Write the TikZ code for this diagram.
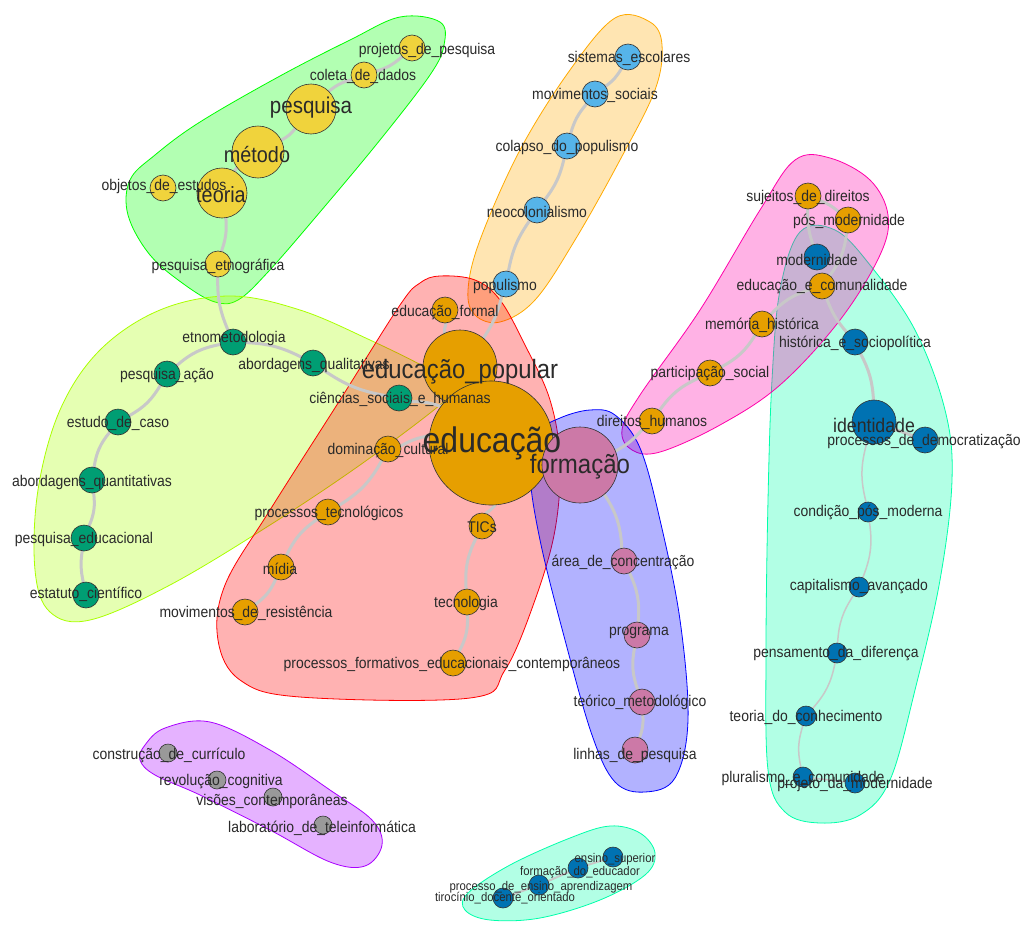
\documentclass[tikz,border=0pt]{standalone}
\usepackage{fontspec}
\setmainfont{Liberation Sans}[FakeStretch=0.9]
\pgfdeclarelayer{paper}
\pgfdeclarelayer{hulls}
\pgfdeclarelayer{edges}
\pgfdeclarelayer{labels}
\pgfsetlayers{paper,hulls,edges,main,labels}
\definecolor{cyel}{HTML}{F0D33C}
\definecolor{csky}{HTML}{56B4E9}
\definecolor{cora}{HTML}{E69F00}
\definecolor{cgrn}{HTML}{009E73}
\definecolor{cblu}{HTML}{0072B2}
\definecolor{cpnk}{HTML}{CC79A7}
\definecolor{cgry}{HTML}{999999}
\definecolor{labc}{HTML}{2A2A2A}
\definecolor{edgec}{HTML}{C8C8C8}
\definecolor{hred}{HTML}{FF0000}
\definecolor{hora}{HTML}{FFAA00}
\definecolor{hyg}{HTML}{AAFF00}
\definecolor{hgrn}{HTML}{00FF00}
\definecolor{hteal}{HTML}{00FFAA}
\definecolor{hblu}{HTML}{0000FF}
\definecolor{hpur}{HTML}{AA00FF}
\definecolor{hmag}{HTML}{FF00AA}
\tikzset{
  nd/.style={circle,draw=black!80,line width=0.6pt,inner sep=0pt,minimum size=26pt},
  cy/.style={fill=cyel}, cs/.style={fill=csky}, co/.style={fill=cora},
  cg/.style={fill=cgrn}, cb/.style={fill=cblu}, cp/.style={fill=cpnk}, cr/.style={fill=cgry},
  lb/.style={font=\fontsize{15.5}{16}\selectfont,text=labc,inner sep=0pt},
  lbs/.style={font=\fontsize{12.6}{13}\selectfont,text=labc,inner sep=0pt},
  hull/.style={draw=#1,fill=#1,fill opacity=0.3,line width=0.8pt},
  edge/.style={draw=edgec,line width=3pt,line cap=round},
  thin edge/.style={draw=edgec,line width=1.5pt,line cap=round}
}
\begin{document}
\begin{tikzpicture}[x=1pt,y=-1pt]
\begin{pgfonlayer}{paper}
\fill[white] (0,0) rectangle (1027,926);
\end{pgfonlayer}
\useasboundingbox (0,0) rectangle (1027,926);
\begin{pgfonlayer}{hulls}
% green
\draw[hull=hgrn] plot[smooth cycle,tension=0.6] coordinates {(400,17) (440,22) (444,45) (430,75) (380,140) (320,212) (268,272) (238,300) (215,302) (185,285) (150,255) (128,215) (130,180) (155,155) (200,122) (280,76) (350,40)};
% beige
\draw[hull=hora] plot[smooth cycle,tension=0.6] coordinates {(615,18) (650,22) (662,45) (655,90) (620,160) (575,240) (535,300) (500,322) (475,315) (468,290) (480,240) (520,150) (570,70)};
% yellow-green
\draw[hull=hyg] plot[smooth cycle,tension=0.6] coordinates {(230,296) (300,310) (370,340) (430,370) (452,388) (440,405) (360,465) (270,525) (170,585) (90,620) (50,612) (35,570) (38,490) (60,410) (100,350) (160,310)};
% red
\draw[hull=hred] plot[smooth cycle,tension=0.6] coordinates {(440,276) (475,280) (500,300) (525,345) (550,400) (560,460) (555,530) (535,600) (505,670) (470,698) (300,697) (240,680) (218,640) (225,585) (270,510) (340,400) (400,305) (420,283)};
% teal right
\draw[hull=hteal] plot[smooth cycle,tension=0.6] coordinates {(800,232) (835,230) (870,265) (915,330) (945,410) (952,480) (940,580) (915,690) (890,780) (860,815) (820,823) (785,812) (768,770) (766,650) (768,500) (772,380) (780,290)};
% pink
\draw[hull=hmag] plot[smooth cycle,tension=0.6] coordinates {(795,160) (830,158) (870,180) (888,215) (880,255) (840,320) (780,385) (720,425) (660,452) (632,450) (622,430) (640,395) (700,310) (760,210)};
% periwinkle
\draw[hull=hblu] plot[smooth cycle,tension=0.6] coordinates {(560,418) (590,410) (615,415) (640,448) (660,520) (680,620) (688,720) (675,778) (645,792) (615,782) (592,735) (565,640) (540,540) (530,470) (540,432)};
% purple
\draw[hull=hpur] plot[smooth cycle,tension=0.6] coordinates {(145,745) (165,728) (210,722) (270,750) (330,790) (372,820) (382,845) (365,866) (330,862) (270,830) (200,795) (155,775) (140,760)};
% bottom teal
\draw[hull=hteal] plot[smooth cycle,tension=0.6] coordinates {(570,838) (610,826) (640,833) (655,853) (645,875) (600,900) (540,918) (490,920) (465,910) (468,893) (510,865)};
\end{pgfonlayer}

% ---------- nodes ----------
% green cluster
\node[nd,cy] (proj) at (412,48) {};
\node[nd,cy] (coleta) at (364,75) {};
\node[nd,cy,minimum size=50pt] (pesq) at (311,109) {};
\node[nd,cy,minimum size=52pt] (metodo) at (258,152) {};
\node[nd,cy,minimum size=50pt] (teoria) at (222,193) {};
\node[nd,cy] (objetos) at (163,188) {};
\node[nd,cy] (petno) at (218,264) {};
% beige cluster
\node[nd,cs] (sist) at (628,57) {};
\node[nd,cs] (movsoc) at (595,94) {};
\node[nd,cs] (colapso) at (567,146) {};
\node[nd,cs] (neocol) at (537,210) {};
\node[nd,cs] (popul) at (506,284) {};
% red cluster
\node[nd,co,minimum size=74pt] (edupop) at (460,367) {};
\node[nd,co,minimum size=124pt] (edu) at (491,443) {};
\node[nd,co] (eduformal) at (445,310) {};
\node[nd,co] (domin) at (388,449) {};
\node[nd,co] (proctec) at (328,512) {};
\node[nd,co] (tics) at (482,526) {};
\node[nd,co] (midia) at (281,567) {};
\node[nd,co] (movres) at (245,612) {};
\node[nd,co] (tecno) at (467,602) {};
\node[nd,co] (procform) at (453,663) {};
\node[nd,cg] (ciencias) at (399,398) {};
% yellow-green cluster
\node[nd,cg] (etno) at (233,342) {};
\node[nd,cg] (abqual) at (313,363) {};
\node[nd,cg] (pacao) at (167,374) {};
\node[nd,cg] (estudo) at (118,422) {};
\node[nd,cg] (abquant) at (92,480) {};
\node[nd,cg] (pedu) at (84,538) {};
\node[nd,cg] (estat) at (86,595) {};
% periwinkle cluster
\node[nd,cp,minimum size=76pt] (form) at (580,465) {};
\node[nd,cp] (area) at (624,561) {};
\node[nd,cp] (prog) at (637,635) {};
\node[nd,cp] (teorico) at (642,702) {};
\node[nd,cp] (linhas) at (635,750) {};
% pink cluster
\node[nd,co] (sujeitos) at (808,196) {};
\node[nd,co] (posmod) at (848,220) {};
\node[nd,cb] (modern) at (817,257) {};
\node[nd,co] (educom) at (822,286) {};
\node[nd,co] (memoria) at (762,324) {};
\node[nd,co] (partic) at (710,373) {};
\node[nd,co] (direitos) at (652,421) {};
% teal right cluster
\node[nd,cb] (histor) at (855,342) {};
\node[nd,cb,minimum size=44pt] (ident) at (874,422) {};
\node[nd,cb] (procdem) at (925,440) {};
\node[nd,cb,minimum size=20pt] (condicao) at (868,512) {};
\node[nd,cb,minimum size=20pt] (capital) at (859,587) {};
\node[nd,cb,minimum size=20pt] (pensam) at (837,653) {};
\node[nd,cb,minimum size=20pt] (teocon) at (806,716) {};
\node[nd,cb,minimum size=20pt] (plural) at (803,777) {};
\node[nd,cb,minimum size=20pt] (projmod) at (855,783) {};
% purple cluster
\node[nd,cr,minimum size=18pt] (constr) at (168,753) {};
\node[nd,cr,minimum size=18pt] (revol) at (217,780) {};
\node[nd,cr,minimum size=18pt] (visoes) at (273,797) {};
\node[nd,cr,minimum size=18pt] (labor) at (323,825) {};
% bottom teal cluster
\node[nd,cb,minimum size=20pt] (ensup) at (613,857) {};
\node[nd,cb,minimum size=20pt] (formeduc) at (578,868) {};
\node[nd,cb,minimum size=20pt] (procens) at (539,885) {};
\node[nd,cb,minimum size=20pt] (tiroc) at (503,898) {};

% ---------- edges ----------
\begin{pgfonlayer}{edges}
\draw[edge] (proj) to[bend left=12] (coleta);
\draw[edge] (coleta) to[bend right=12] (pesq);
\draw[edge] (pesq) to[bend left=12] (metodo);
\draw[edge] (metodo) to[bend right=12] (teoria);
\draw[edge] (teoria) to[bend left=12] (petno);
\draw[edge] (petno) to[bend right=12] (etno);
\draw[edge] (etno) to[bend right=15] (pacao);
\draw[edge] (pacao) to[bend left=15] (estudo);
\draw[edge] (estudo) to[bend right=15] (abquant);
\draw[edge] (abquant) to[bend left=15] (pedu);
\draw[edge] (pedu) to[bend right=10] (estat);
\draw[edge] (etno) to[bend left=12] (abqual);
\draw[edge] (abqual) to[bend right=12] (ciencias);
\draw[edge] (ciencias) to[bend left=10] (edu);
\draw[edge] (edu) to[bend right=10] (domin);
\draw[edge] (domin) to[bend left=15] (proctec);
\draw[edge] (proctec) to[bend right=15] (midia);
\draw[edge] (midia) to[bend left=15] (movres);
\draw[edge] (edu) to[bend left=10] (tics);
\draw[edge] (tics) to[bend right=15] (tecno);
\draw[edge] (tecno) to[bend left=15] (procform);
\draw[edge] (edupop) to[bend left=10] (eduformal);
\draw[edge] (edupop) to[bend right=10] (popul);
\draw[edge] (popul) to[bend left=12] (neocol);
\draw[edge] (neocol) to[bend right=12] (colapso);
\draw[edge] (colapso) to[bend left=12] (movsoc);
\draw[edge] (movsoc) to[bend right=12] (sist);
\draw[edge] (edu) -- (edupop);
\draw[edge] (edu) -- (form);
\draw[edge] (form) to[bend left=15] (area);
\draw[edge] (area) to[bend left=15] (prog);
\draw[edge] (prog) to[bend right=15] (teorico);
\draw[edge] (teorico) to[bend left=12] (linhas);
\draw[edge] (form) to[bend right=10] (direitos);
\draw[edge] (direitos) to[bend left=15] (partic);
\draw[edge] (partic) to[bend right=15] (memoria);
\draw[edge] (memoria) to[bend left=15] (educom);
\draw[edge] (educom) to[bend right=10] (histor);
\draw[edge] (educom) to[bend right=15] (posmod);
\draw[edge] (sujeitos) to[bend left=10] (posmod);
\draw[edge] (sujeitos) to[bend right=10] (modern);
\draw[edge] (histor) to[bend left=12] (ident);
\draw[edge] (ident) -- (procdem);
\draw[thin edge] (ident) to[bend right=15] (condicao);
\draw[thin edge] (condicao) to[bend left=15] (capital);
\draw[thin edge] (capital) to[bend right=15] (pensam);
\draw[thin edge] (pensam) to[bend left=15] (teocon);
\draw[thin edge] (teocon) to[bend right=15] (plural);
\draw[thin edge] (plural) -- (projmod);
\draw[edge,line width=2pt] (tiroc) -- (procens);
\draw[edge,line width=2pt] (procens) -- (formeduc);
\draw[edge,line width=2pt] (formeduc) -- (ensup);
\end{pgfonlayer}

% ---------- labels ----------
\begin{pgfonlayer}{labels}
\node[lb] (proj-l) at (427,50) {projetos\_de\_pesquisa};
\node[lb] (coleta-l) at (363,76) {coleta\_de\_dados};
\node[lb,font=\fontsize{22.8}{24}\selectfont] (pesq-l) at (311,108) {pesquisa};
\node[lb,font=\fontsize{22}{24}\selectfont] (metodo-l) at (257,155) {método};
\node[lb,font=\fontsize{22}{24}\selectfont] (teoria-l) at (221,195) {teoria};
\node[lb] (objetos-l) at (164,186) {objetos\_de\_estudos};
\node[lb] (petno-l) at (218,266) {pesquisa\_etnográfica};
\node[lb] (sist-l) at (629,58) {sistemas\_escolares};
\node[lb] (movsoc-l) at (595,95) {movimentos\_sociais};
\node[lb] (colapso-l) at (567,147) {colapso\_do\_populismo};
\node[lb] (neocol-l) at (537,212) {neocolonialismo};
\node[lb] (popul-l) at (505,286) {populismo};
\node[lb,font=\fontsize{26.5}{28}\selectfont] (edupop-l) at (460,372) {educação\_popular};
\node[lb,font=\fontsize{35.5}{37}\selectfont] (edu-l) at (492,443) {educação};
\node[lb] (eduformal-l) at (445,313) {educação\_formal};
\node[lb] (ciencias-l) at (400,399) {ciências\_sociais\_e\_humanas};
\node[lb] (domin-l) at (388,451) {dominação\_cultural};
\node[lb] (proctec-l) at (329,513) {processos\_tecnológicos};
\node[lb] (tics-l) at (482,527) {TICs};
\node[lb] (midia-l) at (280,569) {mídia};
\node[lb] (movres-l) at (246,613) {movimentos\_de\_resistência};
\node[lb] (tecno-l) at (466,603) {tecnologia};
\node[lb] (procform-l) at (452,664) {processos\_formativos\_educacionais\_contemporâneos};
\node[lb] (etno-l) at (234,338) {etnometodologia};
\node[lb] (abqual-l) at (314,365) {abordagens\_qualitativas};
\node[lb] (pacao-l) at (167,376) {pesquisa\_ação};
\node[lb] (estudo-l) at (118,423) {estudo\_de\_caso};
\node[lb] (abquant-l) at (92,482) {abordagens\_quantitativas};
\node[lb] (pedu-l) at (84,539) {pesquisa\_educacional};
\node[lb] (estat-l) at (86,594) {estatuto\_científico};
\node[lb,font=\fontsize{26.7}{28}\selectfont] (form-l) at (580,467) {formação};
\node[lb] (area-l) at (623,562) {área\_de\_concentração};
\node[lb] (prog-l) at (639,633) {programa};
\node[lb] (teorico-l) at (640,702) {teórico\_metodológico};
\node[lb] (linhas-l) at (635,755) {linhas\_de\_pesquisa};
\node[lb] (sujeitos-l) at (808,197) {sujeitos\_de\_direitos};
\node[lb] (posmod-l) at (849,221) {pós\_modernidade};
\node[lb] (modern-l) at (817,260) {modernidade};
\node[lb] (educom-l) at (822,287) {educação\_e\_comunalidade};
\node[lb] (memoria-l) at (762,325) {memória\_histórica};
\node[lb] (partic-l) at (710,374) {participação\_social};
\node[lb] (direitos-l) at (652,422) {direitos\_humanos};
\node[lb] (histor-l) at (855,343) {histórica\_e\_sociopolítica};
\node[lb,font=\fontsize{19.7}{21}\selectfont] (ident-l) at (874,425) {identidade};
\node[lb] (procdem-l) at (924,442) {processos\_de\_democratização};
\node[lb] (condicao-l) at (868,512) {condição\_pós\_moderna};
\node[lb] (capital-l) at (859,587) {capitalismo\_avançado};
\node[lb] (pensam-l) at (836,654) {pensamento\_da\_diferença};
\node[lb] (teocon-l) at (806,717) {teoria\_do\_conhecimento};
\node[lb] (plural-l) at (803,778) {pluralismo\_e\_comunidade};
\node[lb] (projmod-l) at (855,784) {projeto\_da\_modernidade};
\node[lb] (constr-l) at (169,755) {construção\_de\_currículo};
\node[lb] (revol-l) at (221,782) {revolução\_cognitiva};
\node[lb] (visoes-l) at (272,801) {visões\_contemporâneas};
\node[lb] (labor-l) at (322,828) {laboratório\_de\_teleinformática};
\node[lbs] (ensup-l) at (615,859) {ensino\_superior};
\node[lbs] (formeduc-l) at (580,872) {formação\_do\_educador};
\node[lbs] (procens-l) at (541,887) {processo\_de\_ensino\_aprendizagem};
\node[lbs] (tiroc-l) at (505,898) {tirocínio\_docente\_orientado};
\end{pgfonlayer}
\end{tikzpicture}
\end{document}
